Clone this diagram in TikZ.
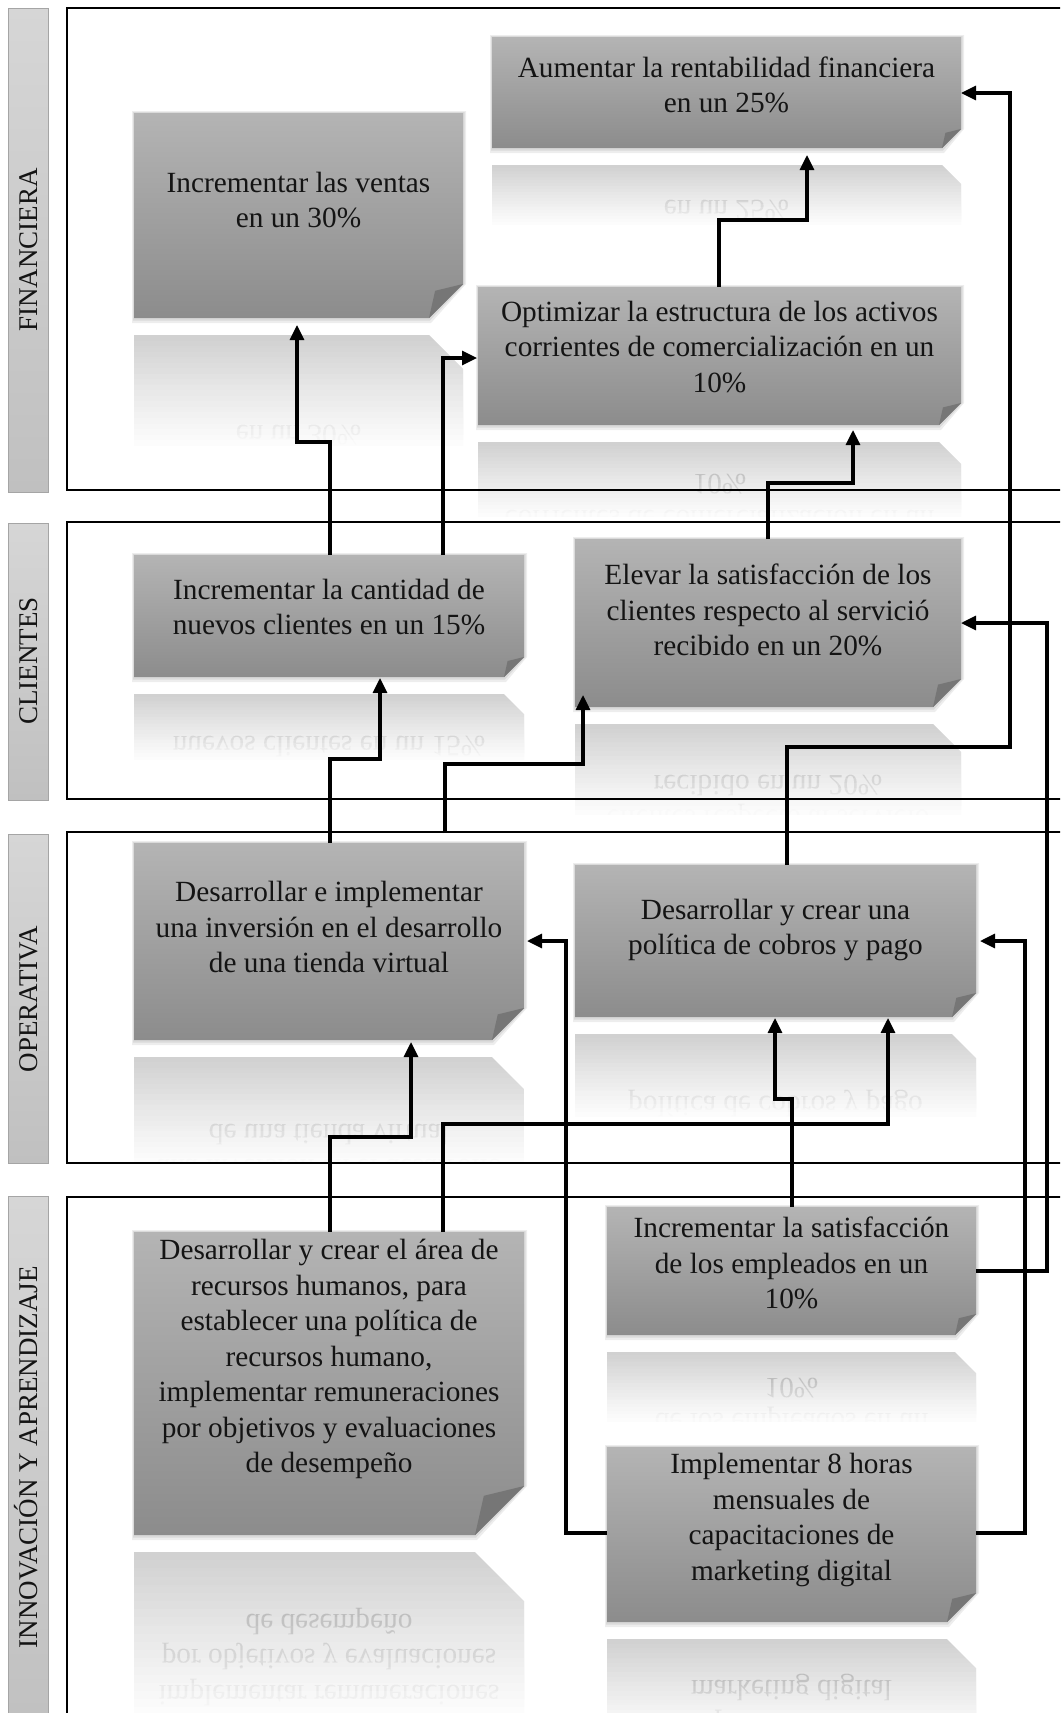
\documentclass[tikz,border=0pt]{standalone}
\usepackage{fontspec}
\setmainfont{Liberation Serif}
\usetikzlibrary{arrows.meta}
\definecolor{boxtop}{RGB}{180,180,180}
\definecolor{boxbot}{RGB}{140,140,140}
\definecolor{flapc}{RGB}{118,118,118}
\definecolor{bartop}{RGB}{214,214,214}
\definecolor{barbot}{RGB}{192,192,192}
\definecolor{barline}{RGB}{165,165,165}
\definecolor{txt}{RGB}{20,20,20}
\tikzset{
 boxtext/.style={font=\fontsize{29.3}{35.5}\selectfont, text=txt, align=center, inner sep=0pt},
 boxframe/.style={rectangle, inner sep=0pt, outer sep=0pt},
 panel/.style={draw=black, line width=2.4pt},
 labbar/.style={draw=barline, line width=1pt, top color=bartop, bottom color=barbot},
 labtext/.style={font=\fontsize{27}{30}\selectfont, text=txt, rotate=90, inner sep=0pt, text height=18pt, text depth=0pt},
 arr/.style={line width=3.2pt, -{Triangle[length=15pt,width=14pt]}},
}
\newcommand\objbox[8]{%
 \pgfmathsetmacro\bw{#4-#2}%
 \pgfmathsetmacro\bh{#5-#3}%
 \pgfmathsetmacro\bcx{(#2+#4)/2}%
 \pgfmathsetmacro\bcy{(#3+#5)/2}%
 \pgfmathsetmacro\rtop{#5+17}%
 \pgfmathsetmacro\rlen{0.54*\bh}%
 \pgfmathsetmacro\rbot{\rtop+\rlen}%
 \pgfmathsetmacro\mty{2*#5+17-#7}%
 \pgfmathsetmacro\fx{#4-#6}%
 \pgfmathsetmacro\fy{\rtop+#6}%
 \pgfmathsetmacro\rb{\rtop+\bh}%
 \begin{scope}
  \clip (#2-3,\rtop) rectangle (#4+3,\rbot);
  \shade[top color=boxbot, bottom color=boxtop] (#2,\rtop) -- (\fx,\rtop) -- (#4,\fy) -- (#4,\rb) -- (#2,\rb) -- cycle;
  \node[boxtext, yscale=-1] (#1r) at (\bcx,\mty) {#8};
  \fill[white, opacity=0.6] (#2-3,\rtop) rectangle (#4+3,\rbot+3);
  \foreach \k in {1,...,19}{\pgfmathsetmacro\op{1/(21-\k)}\fill[white, opacity=\op] (#2-3,{\rtop+\k*\rlen/20}) rectangle (#4+3,\rbot+3);}
 \end{scope}
 \node[boxframe, minimum width=\bw pt, minimum height=\bh pt] (#1) at (\bcx,\bcy) {};
 \fill[black,opacity=0.07] ([xshift=-2pt,yshift=2pt]#1.north west) -- ([xshift=3pt,yshift=2pt]#1.north east) -- ([xshift=3pt,yshift={#6pt}]#1.south east) -- ([xshift={-#6pt+2pt},yshift=-5pt]#1.south east) -- ([xshift=-2pt,yshift=-5pt]#1.south west) -- cycle;
 \fill[black,opacity=0.08] ([xshift=-1pt,yshift=1pt]#1.north west) -- ([xshift=1.5pt,yshift=1pt]#1.north east) -- ([xshift=1.5pt,yshift={#6pt}]#1.south east) -- ([xshift={-#6pt+1pt},yshift=-2.5pt]#1.south east) -- ([xshift=-1pt,yshift=-2.5pt]#1.south west) -- cycle;
 \shade[top color=boxtop, bottom color=boxbot] (#1.north west) -- (#1.north east) -- ([yshift=#6pt]#1.south east) -- ([xshift=-#6pt]#1.south east) -- (#1.south west) -- cycle;
 \fill[flapc] ([yshift=#6pt]#1.south east) -- ([xshift={-0.82*#6pt},yshift={0.8*#6pt}]#1.south east) -- ([xshift=-#6pt]#1.south east) -- cycle;
 \node[boxtext] (#1t) at (\bcx,#7) {#8};
}
\begin{document}
\begin{tikzpicture}[x=1pt,y=-1pt]
\useasboundingbox (0,0) rectangle (1060,1713);
\clip (0,0) rectangle (1060,1713);
\fill[white] (0,0) rectangle (1060,1713);
% label bars
\draw[labbar] (8.5,8) rectangle (48.5,492);
\draw[labbar] (8.5,523) rectangle (48.5,800);
\draw[labbar] (8.5,834) rectangle (48.5,1163);
\draw[labbar] (8.5,1196) rectangle (48.5,1740);
% boxes
\objbox{A}{134}{113}{463}{318}{34}{200}{Incrementar las ventas\\en un 30\%}
\objbox{C}{492}{37}{961}{148}{19}{85}{Aumentar la rentabilidad financiera\\en un 25\%}
\objbox{B}{478}{287}{961}{425}{22}{347}{Optimizar la estructura de los activos\\corrientes de comercialización en un\\10\%}
\objbox{D1}{134}{555}{524}{677}{20}{607}{Incrementar la cantidad de\\nuevos clientes en un 15\%}
\objbox{D2}{575}{539}{961}{707}{28}{610}{Elevar la satisfacción de los\\clientes respecto al servició\\recibido en un 20\%}
\objbox{E1}{134}{843}{524}{1040}{32}{927}{Desarrollar e implementar\\una inversión en el desarrollo\\de una tienda virtual}
\objbox{E2}{575}{865}{976}{1017}{24}{930}{Desarrollar y crear una\\política de cobros y pago}
\objbox{F1}{134}{1232}{524}{1535}{49}{1359}{Desarrollar y crear el área de\\recursos humanos, para\\establecer una política de\\recursos humano,\\implementar remuneraciones\\por objetivos y evaluaciones\\de desempeño}
\objbox{F2}{607}{1207}{976}{1335}{21}{1263}{Incrementar la satisfacción\\de los empleados en un\\10\%}
\objbox{F3}{607}{1447}{976}{1622}{29}{1520}{Implementar 8 horas\\mensuales de\\capacitaciones de\\marketing digital}
% panels
\draw[panel] (67,8) rectangle (1080,490);
\draw[panel] (67,522) rectangle (1080,799);
\draw[panel] (67,832) rectangle (1080,1163);
\draw[panel] (67,1197) rectangle (1080,1740);
% labels
\node[labtext] (l1) at (28.5,250) {FINANCIERA};
\node[labtext] (l2) at (28.5,661) {CLIENTES};
\node[labtext] (l3) at (28.5,999) {OPERATIVA};
\node[labtext] (l4) at (28.5,1457) {INNOVACIÓN Y APRENDIZAJE};
% connectors
\coordinate (opTop) at (445,833);
\draw[arr, shorten >=7pt] (D1.north -| 330,0) |- (297,442) -- (A.south -| 297,0);
\draw[arr, shorten >=7pt] (B.north -| 719,0) |- (807,220) -- (C.south -| 807,0);
\draw[arr, shorten >=1pt] (D1.north -| 443,0) |- (B.west |- 0,358);
\draw[arr, shorten >=5pt] (D2.north -| 768,0) |- (853,483) -- (B.south -| 853,0);
\draw[arr, shorten >=1pt] (E1.north -| 330,0) |- (380,759) -- (D1.south -| 380,0);
\draw[arr, shorten >=-12pt] (opTop) |- (583,764) -- (D2.south -| 583,0);
\draw[arr] (E2.north -| 787,0) |- (1010,747) |- (C.east |- 0,93);
\draw[arr, shorten >=2pt] (F1.north -| 330,0) |- (411,1137) -- (E1.south -| 411,0);
\draw[arr, shorten >=1pt] (F1.north -| 443,0) |- (888,1124) -- (E2.south -| 888,0);
\draw[arr, shorten >=1pt] (F2.north -| 792,0) |- (775,1099) -- (E2.south -| 775,0);
\draw[arr] (F2.east |- 0,1271) -| (1047,623) -- (D2.east |- 0,623);
\draw[arr, shorten >=3pt] (F3.west |- 0,1533) -| (566,941) -- (E1.east |- 0,941);
\draw[arr, shorten >=4pt] (F3.east |- 0,1533) -| (1025,941) -- (E2.east |- 0,941);
\end{tikzpicture}
\end{document}
